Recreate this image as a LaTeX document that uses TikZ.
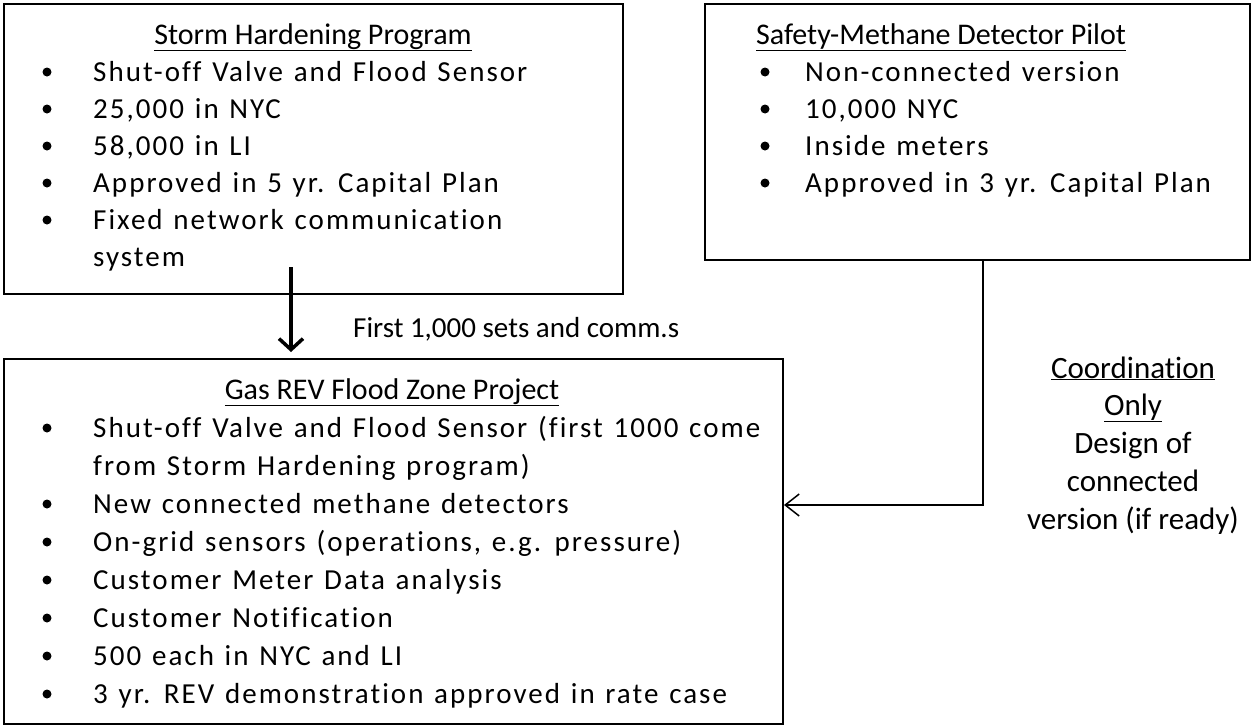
\documentclass[tikz,border=0pt]{standalone}
\usepackage{fontspec}
\setmainfont{Carlito}[Ligatures=NoCommon]
\newfontfamily\spacedfont{Carlito}[LetterSpace=7, WordSpace=1.25, Ligatures=NoCommon]
\usetikzlibrary{arrows.meta}
\newcommand{\headline}[1]{\underline{#1}}

\begin{document}
\begin{tikzpicture}[x=1pt,y=-1pt,
  box/.style={draw, line width=2pt, inner sep=0pt, anchor=north west},
  body/.style={anchor=base west, inner sep=0pt, font=\spacedfont\fontsize{29}{35}\selectfont},
  head/.style={anchor=base, inner sep=0pt, font=\fontsize{30}{35}\selectfont},
  note/.style={anchor=base, inner sep=0pt, font=\fontsize{31}{35}\selectfont},
  dot/.style={circle, fill, inner sep=0pt, minimum size=9pt},
  link/.style={line width=1.5pt}
]
\useasboundingbox (0,0) rectangle (1251,726);

% boxes
\node[box, minimum width=619pt, minimum height=290pt] (storm) at (3,3) {};
\node[box, minimum width=545pt, minimum height=256pt] (safety) at (704,3) {};
\node[box, minimum width=779pt, minimum height=365pt] (gas) at (3,358) {};

% Storm Hardening Program
\node[head] (t1) at (313,44) {\headline{Storm Hardening Program}};
\foreach \y/\t [count=\i] in {81/Shut-off Valve and Flood Sensor,
    118/{25,000 in NYC}, 155/{58,000 in LI},
    192/Approved in 5 yr. Capital Plan,
    229/Fixed network communication}{
  \node[dot] (sd\i) at (47,\y-9) {};
  \node[body] (s\i) at (93,\y) {\t};
}
\node[body] (s6) at (93,266) {system};

% Safety-Methane Detector Pilot
\node[head] (t2) at (941,44) {\headline{Safety-Methane Detector Pilot}};
\foreach \y/\t [count=\i] in {81/Non-connected version, 118/{10,000 NYC},
    155/Inside meters, 192/Approved in 3 yr. Capital Plan}{
  \node[dot] (md\i) at (765,\y-9) {};
  \node[body] (m\i) at (805,\y) {\t};
}

% Gas REV Flood Zone Project
\node[head] (t3) at (392,399) {\headline{Gas REV Flood Zone Project}};
\foreach \y/\t [count=\i] in {437/Shut-off Valve and Flood Sensor (first 1000 come,
    513/New connected methane detectors,
    551/{On-grid sensors (operations, e.g. pressure)},
    589/Customer Meter Data analysis,
    627/Customer Notification,
    665/500 each in NYC and LI,
    703/3 yr. REV demonstration approved in rate case}{
  \node[dot] (gd\i) at (47,\y-9) {};
  \node[body] (g\i) at (93,\y) {\t};
}
\node[body] (g0) at (93,475) {from Storm Hardening program)};

% connectors
\coordinate (a1) at (291,267);
\coordinate (a2) at (291,352);
\draw[line width=3.5pt, -{Straight Barb[length=11pt, width=24pt, line width=3.5pt]}] (a1) -- (a2);
\node[anchor=base west, inner sep=0pt, font=\fontsize{29}{35}\selectfont] (lbl) at (353,337) {First 1,000 sets and comm.s};

\coordinate (c1) at (safety.south -| 983,0);
\coordinate (c2) at (983,505);
\draw[link, -{Straight Barb[length=14pt, width=22pt, line width=1.5pt]}] (c1) -- (c2) -- (gas.east |- c2);

% coordination note
\node[note] (r1) at (1133,378) {\headline{Coordination}};
\node[note] (r2) at (1133,415) {\headline{Only}};
\node[note] (r3) at (1133,453) {Design of};
\node[note] (r4) at (1133,491) {connected};
\node[note] (r5) at (1133,529) {version (if ready)};
\end{tikzpicture}
\end{document}
